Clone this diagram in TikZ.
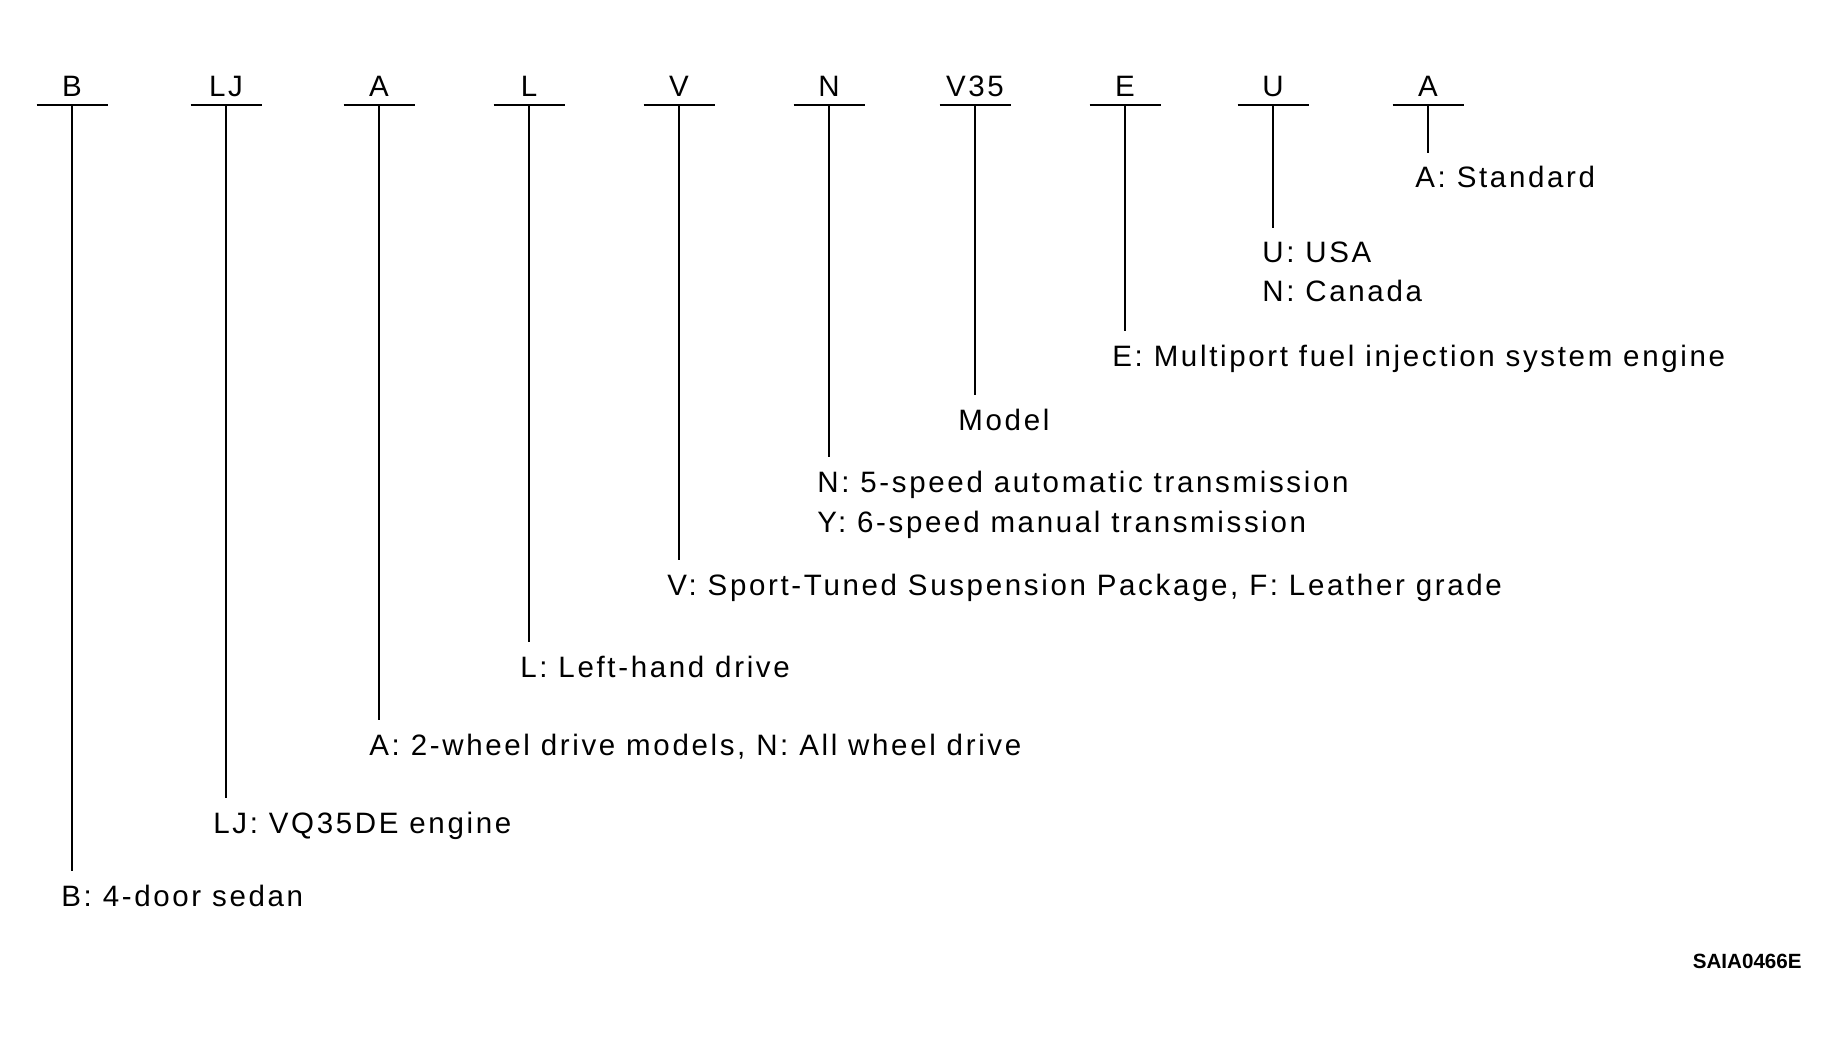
\documentclass[tikz,border=0pt]{standalone}
\usepackage{fontspec}
\setmainfont{Liberation Sans}[LetterSpace=9]
\newfontfamily\saifont{Liberation Sans}
\usepackage{tikz}
\usetikzlibrary{calc}

\begin{document}
\begin{tikzpicture}[x=0.5pt, y=-0.5pt]
\pgfmathsetmacro{\hw}{35.5}
\tikzstyle{code}=[inner sep = 0pt, anchor = base, font = \fontsize{14.75}{18}\selectfont]
\tikzstyle{lbl}=[inner sep = 0pt, anchor = base west, font = \fontsize{14.75}{18}\selectfont]
\tikzstyle{stem}=[line width = 1pt]
\useasboundingbox (0,0) rectangle (1837,1043);

% codes on the top row, with their bars
\foreach \i/\x/\t in {B/72/B, LJ/226/LJ, A/379/A, L/529/L, V/679/V, N/829/N, M/975/V35, E/1125/E, U/1273/U, S/1428/A}{
  \node[code] (c\i) at (\x,97) {\t};
  \coordinate (b\i) at (\x,105);
}
\foreach \i in {B,LJ,A,L,V,N,M,E,U}{\draw[stem] ($(b\i)+(-\hw,0)$) -- ($(b\i)+(\hw,0)$);}
\draw[line width = 0.6pt] ($(bS)+(-\hw,0)$) -- ($(bS)+(\hw,0)$);

% meanings
\node[lbl] (lB) at (61,906) {B: 4-door sedan};
\node[lbl] (lLJ) at (213,833) {LJ: VQ35DE engine};
\node[lbl] (lA) at (369,755) {A: 2-wheel drive models, N: All wheel drive};
\node[lbl] (lL) at (520,677) {L: Left-hand drive};
\node[lbl] (lV) at (667,595) {V: Sport-Tuned Suspension Package, F: Leather grade};
\node[lbl] (lN) at (817,492) {N: 5-speed automatic transmission};
\node[lbl] (lN2) at (817,532) {Y: 6-speed manual transmission};
\node[lbl] (lM) at (958,430) {Model};
\node[lbl] (lE) at (1112,366) {E: Multiport fuel injection system engine};
\node[lbl] (lU) at (1262,263) {U: USA};
\node[lbl] (lU2) at (1262,302) {N: Canada};
\node[lbl] (lS) at (1415,188) {A: Standard};

\foreach \i in {B,LJ,A,L,V,N,M,E,U,S}{\draw[stem] (b\i) -- ([yshift=17.5pt]b\i |- l\i.base);}

\node[inner sep = 0pt, anchor = base east, font = \saifont\bfseries\fontsize{10.3}{12}\selectfont] (sai) at (1802,968) {SAIA0466E};
\end{tikzpicture}
\end{document}
